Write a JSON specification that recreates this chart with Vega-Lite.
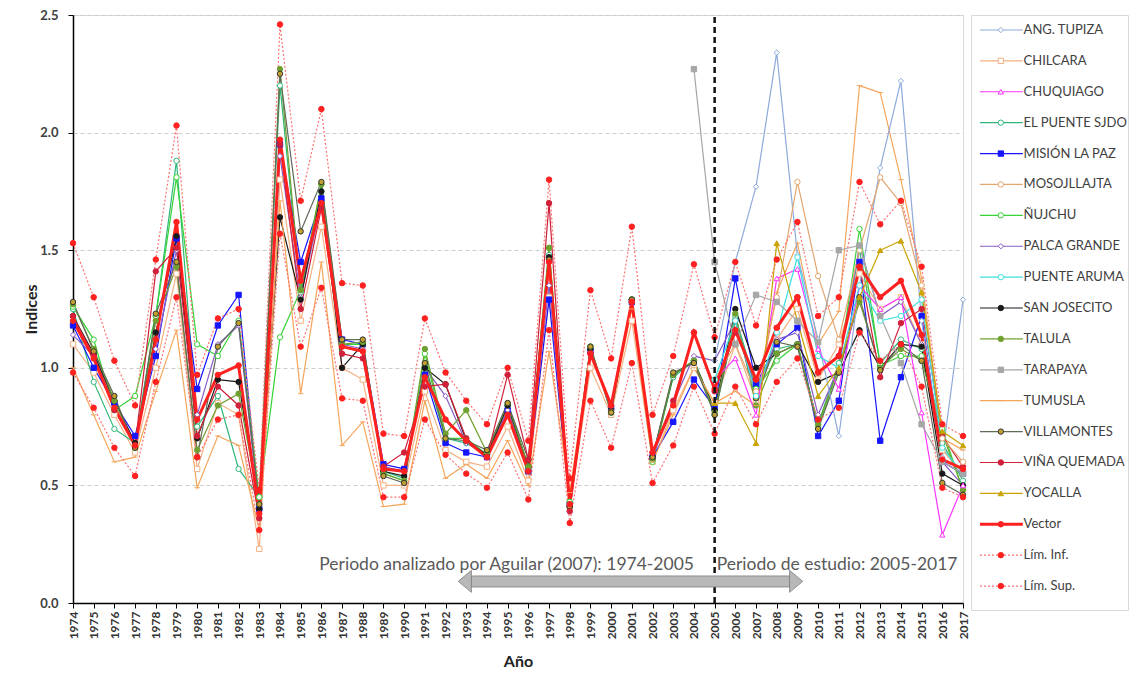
{
"$schema":"https://vega.github.io/schema/vega-lite/v6.json",
"background":"white",
"padding":{"left":22,"top":8,"right":2,"bottom":2},
"spacing":0,
"bounds":"full",
"config":{"font":"Lato","view":{"stroke":"#d9d9d9"},"axis":{"labelFont":"Lato","titleFont":"Lato"},
"axisX":{"format":"d","labelAngle":-90,"labelFontWeight":"bold","labelFontSize":12,"labelColor":"#333333","labelPadding":3,"labelOverlap":false,"labelFlush":false,"titleFontSize":16,"titleFontWeight":"bold","titleColor":"#222222","titlePadding":15,"domainColor":"#000000","domainWidth":1.5,"tickColor":"#000000","tickSize":5,"grid":false},
"axisY":{"format":".1f","labelFontWeight":"bold","labelFontSize":13,"labelColor":"#404040","labelPadding":10,"titleFontSize":16,"titleFontWeight":"bold","titleColor":"#222222","titleX":-34,"domainColor":"#000000","domainWidth":1.5,"tickColor":"#000000","tickSize":5,"grid":true,"gridColor":"#cccccc","gridDash":[4,3]}},
"datasets":{
"notes":[{"txt":"Periodo analizado por Aguilar (2007): 1974-2005","side":"l"},{"txt":"Periodo de estudio: 2005-2017","side":"r"}],
"one":[{"k":"arrow"}],
"leg":[{"s":"A","name":"ANG. TUPIZA"},{"s":"C","name":"CHILCARA"},{"s":"H","name":"CHUQUIAGO"},{"s":"E","name":"EL PUENTE SJDO"},{"s":"M","name":"MISIÓN LA PAZ"},{"s":"O","name":"MOSOJLLAJTA"},{"s":"N","name":"ÑUJCHU"},{"s":"P","name":"PALCA GRANDE"},{"s":"R","name":"PUENTE ARUMA"},{"s":"S","name":"SAN JOSECITO"},{"s":"T","name":"TALULA"},{"s":"G","name":"TARAPAYA"},{"s":"U","name":"TUMUSLA"},{"s":"W","name":"VILLAMONTES"},{"s":"Q","name":"VIÑA QUEMADA"},{"s":"K","name":"YOCALLA"},{"s":"V","name":"Vector"},{"s":"I","name":"Lím. Inf."},{"s":"L","name":"Lím. Sup."}],
"d":[
{"s":"C","t":1974,"v":1.10},{"s":"C","t":1975,"v":0.98},{"s":"C","t":1976,"v":0.80},{"s":"C","t":1977,"v":0.64},{"s":"C","t":1978,"v":1.00},{"s":"C","t":1979,"v":1.40},{"s":"C","t":1980,"v":0.57},{"s":"C","t":1981,"v":0.85},{"s":"C","t":1982,"v":0.80},{"s":"C","t":1983,"v":0.23},{"s":"C","t":1984,"v":1.80},{"s":"C","t":1985,"v":1.20},{"s":"C","t":1986,"v":1.60},{"s":"C","t":1987,"v":1.00},{"s":"C","t":1988,"v":0.95},{"s":"C","t":1989,"v":0.50},{"s":"C","t":1990,"v":0.50},{"s":"C","t":1991,"v":0.90},{"s":"C","t":1992,"v":0.65},{"s":"C","t":1993,"v":0.60},{"s":"C","t":1994,"v":0.58},{"s":"C","t":1995,"v":0.75},{"s":"C","t":1996,"v":0.52},{"s":"C","t":1997,"v":1.30},{"s":"C","t":1998,"v":0.40},{"s":"C","t":1999,"v":1.00},{"s":"C","t":2000,"v":0.80},{"s":"C","t":2001,"v":1.20},{"s":"C","t":2002,"v":0.60},{"s":"C","t":2003,"v":0.82},{"s":"C","t":2004,"v":1.00},{"s":"C","t":2005,"v":0.85},{"s":"C","t":2006,"v":1.10},{"s":"C","t":2007,"v":0.86},{"s":"C","t":2008,"v":1.12},{"s":"C","t":2009,"v":1.25},{"s":"C","t":2010,"v":0.95},{"s":"C","t":2011,"v":1.10},{"s":"C","t":2012,"v":1.40},{"s":"C","t":2013,"v":1.25},{"s":"C","t":2014,"v":1.30},{"s":"C","t":2015,"v":1.10},{"s":"C","t":2016,"v":0.65},{"s":"C","t":2017,"v":0.55},
{"s":"E","t":1974,"v":1.25},{"s":"E","t":1975,"v":0.94},{"s":"E","t":1976,"v":0.74},{"s":"E","t":1977,"v":0.68},{"s":"E","t":1978,"v":1.22},{"s":"E","t":1979,"v":1.88},{"s":"E","t":1980,"v":0.75},{"s":"E","t":1981,"v":0.88},{"s":"E","t":1982,"v":0.57},{"s":"E","t":1983,"v":0.45},{"s":"E","t":1984,"v":2.20},{"s":"E","t":1985,"v":1.32},{"s":"E","t":1986,"v":1.75},{"s":"E","t":1987,"v":1.10},{"s":"E","t":1988,"v":1.10},{"s":"E","t":1989,"v":0.56},{"s":"E","t":1990,"v":0.53},{"s":"E","t":1991,"v":1.00},{"s":"E","t":1992,"v":0.70},{"s":"E","t":1993,"v":0.68},{"s":"E","t":1994,"v":0.63},{"s":"E","t":1995,"v":0.84},{"s":"E","t":1996,"v":0.58},{"s":"E","t":1997,"v":1.48},{"s":"E","t":1998,"v":0.43},{"s":"E","t":1999,"v":1.08},{"s":"E","t":2000,"v":0.82},{"s":"E","t":2001,"v":1.29},{"s":"E","t":2002,"v":0.61},{"s":"E","t":2003,"v":0.96},{"s":"E","t":2004,"v":1.03},{"s":"E","t":2005,"v":0.82},{"s":"E","t":2006,"v":1.22},{"s":"E","t":2007,"v":0.92},{"s":"E","t":2008,"v":1.08},{"s":"E","t":2009,"v":1.10},{"s":"E","t":2010,"v":0.76},{"s":"E","t":2011,"v":1.02},{"s":"E","t":2012,"v":1.50},{"s":"E","t":2013,"v":1.02},{"s":"E","t":2014,"v":1.12},{"s":"E","t":2015,"v":1.08},{"s":"E","t":2016,"v":0.68},{"s":"E","t":2017,"v":0.52},
{"s":"M","t":1974,"v":1.18},{"s":"M","t":1975,"v":1.00},{"s":"M","t":1976,"v":0.85},{"s":"M","t":1977,"v":0.71},{"s":"M","t":1978,"v":1.05},{"s":"M","t":1979,"v":1.55},{"s":"M","t":1980,"v":0.91},{"s":"M","t":1981,"v":1.18},{"s":"M","t":1982,"v":1.31},{"s":"M","t":1983,"v":0.40},{"s":"M","t":1984,"v":1.95},{"s":"M","t":1985,"v":1.45},{"s":"M","t":1986,"v":1.72},{"s":"M","t":1987,"v":1.12},{"s":"M","t":1988,"v":1.10},{"s":"M","t":1989,"v":0.59},{"s":"M","t":1990,"v":0.57},{"s":"M","t":1991,"v":0.97},{"s":"M","t":1992,"v":0.68},{"s":"M","t":1993,"v":0.64},{"s":"M","t":1994,"v":0.62},{"s":"M","t":1995,"v":0.82},{"s":"M","t":1996,"v":0.56},{"s":"M","t":1997,"v":1.29},{"s":"M","t":1998,"v":0.42},{"s":"M","t":1999,"v":1.07},{"s":"M","t":2000,"v":0.83},{"s":"M","t":2001,"v":1.28},{"s":"M","t":2002,"v":0.62},{"s":"M","t":2003,"v":0.77},{"s":"M","t":2004,"v":0.95},{"s":"M","t":2005,"v":0.83},{"s":"M","t":2006,"v":1.38},{"s":"M","t":2007,"v":0.93},{"s":"M","t":2008,"v":1.10},{"s":"M","t":2009,"v":1.17},{"s":"M","t":2010,"v":0.71},{"s":"M","t":2011,"v":0.86},{"s":"M","t":2012,"v":1.45},{"s":"M","t":2013,"v":0.69},{"s":"M","t":2014,"v":0.96},{"s":"M","t":2015,"v":1.22},{"s":"M","t":2016,"v":0.60},{"s":"M","t":2017,"v":0.55},
{"s":"N","t":1974,"v":1.26},{"s":"N","t":1975,"v":1.12},{"s":"N","t":1976,"v":0.82},{"s":"N","t":1977,"v":0.88},{"s":"N","t":1978,"v":1.22},{"s":"N","t":1979,"v":1.81},{"s":"N","t":1980,"v":1.10},{"s":"N","t":1981,"v":1.05},{"s":"N","t":1982,"v":1.20},{"s":"N","t":1983,"v":0.45},{"s":"N","t":1984,"v":1.13},{"s":"N","t":1985,"v":1.33},{"s":"N","t":1986,"v":1.78},{"s":"N","t":1987,"v":1.10},{"s":"N","t":1988,"v":1.10},{"s":"N","t":1989,"v":0.55},{"s":"N","t":1990,"v":0.52},{"s":"N","t":1991,"v":1.06},{"s":"N","t":1992,"v":0.70},{"s":"N","t":1993,"v":0.70},{"s":"N","t":1994,"v":0.63},{"s":"N","t":1995,"v":0.84},{"s":"N","t":1996,"v":0.58},{"s":"N","t":1997,"v":1.51},{"s":"N","t":1998,"v":0.43},{"s":"N","t":1999,"v":1.09},{"s":"N","t":2000,"v":0.81},{"s":"N","t":2001,"v":1.29},{"s":"N","t":2002,"v":0.60},{"s":"N","t":2003,"v":0.97},{"s":"N","t":2004,"v":1.03},{"s":"N","t":2005,"v":0.80},{"s":"N","t":2006,"v":1.20},{"s":"N","t":2007,"v":0.91},{"s":"N","t":2008,"v":1.03},{"s":"N","t":2009,"v":1.10},{"s":"N","t":2010,"v":0.75},{"s":"N","t":2011,"v":1.00},{"s":"N","t":2012,"v":1.59},{"s":"N","t":2013,"v":1.01},{"s":"N","t":2014,"v":1.05},{"s":"N","t":2015,"v":1.05},{"s":"N","t":2016,"v":0.74},{"s":"N","t":2017,"v":0.48},
{"s":"P","t":1974,"v":1.14},{"s":"P","t":1975,"v":1.05},{"s":"P","t":1976,"v":0.86},{"s":"P","t":1977,"v":0.68},{"s":"P","t":1978,"v":1.08},{"s":"P","t":1979,"v":1.50},{"s":"P","t":1980,"v":0.80},{"s":"P","t":1981,"v":1.10},{"s":"P","t":1982,"v":1.18},{"s":"P","t":1983,"v":0.40},{"s":"P","t":1984,"v":1.90},{"s":"P","t":1985,"v":1.30},{"s":"P","t":1986,"v":1.70},{"s":"P","t":1987,"v":1.10},{"s":"P","t":1988,"v":1.08},{"s":"P","t":1989,"v":0.58},{"s":"P","t":1990,"v":0.56},{"s":"P","t":1991,"v":1.00},{"s":"P","t":1992,"v":0.88},{"s":"P","t":1993,"v":0.68},{"s":"P","t":1994,"v":0.63},{"s":"P","t":1995,"v":0.82},{"s":"P","t":1996,"v":0.57},{"s":"P","t":1997,"v":1.35},{"s":"P","t":1998,"v":0.42},{"s":"P","t":1999,"v":1.07},{"s":"P","t":2000,"v":0.83},{"s":"P","t":2001,"v":1.28},{"s":"P","t":2002,"v":0.62},{"s":"P","t":2003,"v":0.85},{"s":"P","t":2004,"v":1.05},{"s":"P","t":2005,"v":1.03},{"s":"P","t":2006,"v":1.20},{"s":"P","t":2007,"v":0.90},{"s":"P","t":2008,"v":1.12},{"s":"P","t":2009,"v":1.15},{"s":"P","t":2010,"v":0.80},{"s":"P","t":2011,"v":1.00},{"s":"P","t":2012,"v":1.52},{"s":"P","t":2013,"v":1.22},{"s":"P","t":2014,"v":1.28},{"s":"P","t":2015,"v":1.10},{"s":"P","t":2016,"v":0.60},{"s":"P","t":2017,"v":0.50},
{"s":"S","t":1974,"v":1.22},{"s":"S","t":1975,"v":1.06},{"s":"S","t":1976,"v":0.86},{"s":"S","t":1977,"v":0.68},{"s":"S","t":1978,"v":1.15},{"s":"S","t":1979,"v":1.56},{"s":"S","t":1980,"v":0.70},{"s":"S","t":1981,"v":0.95},{"s":"S","t":1982,"v":0.94},{"s":"S","t":1983,"v":0.40},{"s":"S","t":1984,"v":1.64},{"s":"S","t":1985,"v":1.29},{"s":"S","t":1986,"v":1.75},{"s":"S","t":1987,"v":1.00},{"s":"S","t":1988,"v":1.10},{"s":"S","t":1989,"v":0.56},{"s":"S","t":1990,"v":0.54},{"s":"S","t":1991,"v":1.00},{"s":"S","t":1992,"v":0.93},{"s":"S","t":1993,"v":0.69},{"s":"S","t":1994,"v":0.63},{"s":"S","t":1995,"v":0.84},{"s":"S","t":1996,"v":0.58},{"s":"S","t":1997,"v":1.47},{"s":"S","t":1998,"v":0.41},{"s":"S","t":1999,"v":1.08},{"s":"S","t":2000,"v":0.82},{"s":"S","t":2001,"v":1.29},{"s":"S","t":2002,"v":0.62},{"s":"S","t":2003,"v":0.97},{"s":"S","t":2004,"v":1.03},{"s":"S","t":2005,"v":0.82},{"s":"S","t":2006,"v":1.25},{"s":"S","t":2007,"v":1.00},{"s":"S","t":2008,"v":1.06},{"s":"S","t":2009,"v":1.10},{"s":"S","t":2010,"v":0.94},{"s":"S","t":2011,"v":0.98},{"s":"S","t":2012,"v":1.16},{"s":"S","t":2013,"v":1.00},{"s":"S","t":2014,"v":1.10},{"s":"S","t":2015,"v":1.09},{"s":"S","t":2016,"v":0.55},{"s":"S","t":2017,"v":0.50},
{"s":"T","t":1974,"v":1.27},{"s":"T","t":1975,"v":1.08},{"s":"T","t":1976,"v":0.86},{"s":"T","t":1977,"v":0.66},{"s":"T","t":1978,"v":1.20},{"s":"T","t":1979,"v":1.43},{"s":"T","t":1980,"v":0.65},{"s":"T","t":1981,"v":0.84},{"s":"T","t":1982,"v":0.89},{"s":"T","t":1983,"v":0.42},{"s":"T","t":1984,"v":2.27},{"s":"T","t":1985,"v":1.33},{"s":"T","t":1986,"v":1.78},{"s":"T","t":1987,"v":1.10},{"s":"T","t":1988,"v":1.11},{"s":"T","t":1989,"v":0.55},{"s":"T","t":1990,"v":0.52},{"s":"T","t":1991,"v":1.08},{"s":"T","t":1992,"v":0.72},{"s":"T","t":1993,"v":0.82},{"s":"T","t":1994,"v":0.64},{"s":"T","t":1995,"v":0.85},{"s":"T","t":1996,"v":0.58},{"s":"T","t":1997,"v":1.51},{"s":"T","t":1998,"v":0.42},{"s":"T","t":1999,"v":1.09},{"s":"T","t":2000,"v":0.81},{"s":"T","t":2001,"v":1.29},{"s":"T","t":2002,"v":0.61},{"s":"T","t":2003,"v":0.97},{"s":"T","t":2004,"v":1.03},{"s":"T","t":2005,"v":0.81},{"s":"T","t":2006,"v":1.23},{"s":"T","t":2007,"v":0.84},{"s":"T","t":2008,"v":1.06},{"s":"T","t":2009,"v":1.10},{"s":"T","t":2010,"v":0.76},{"s":"T","t":2011,"v":1.00},{"s":"T","t":2012,"v":1.28},{"s":"T","t":2013,"v":1.00},{"s":"T","t":2014,"v":1.08},{"s":"T","t":2015,"v":1.03},{"s":"T","t":2016,"v":0.72},{"s":"T","t":2017,"v":0.48},
{"s":"U","t":1974,"v":1.00},{"s":"U","t":1975,"v":0.80},{"s":"U","t":1976,"v":0.60},{"s":"U","t":1977,"v":0.62},{"s":"U","t":1978,"v":0.90},{"s":"U","t":1979,"v":1.16},{"s":"U","t":1980,"v":0.49},{"s":"U","t":1981,"v":0.71},{"s":"U","t":1982,"v":0.67},{"s":"U","t":1983,"v":0.31},{"s":"U","t":1984,"v":1.71},{"s":"U","t":1985,"v":0.89},{"s":"U","t":1986,"v":1.45},{"s":"U","t":1987,"v":0.67},{"s":"U","t":1988,"v":0.77},{"s":"U","t":1989,"v":0.41},{"s":"U","t":1990,"v":0.42},{"s":"U","t":1991,"v":0.86},{"s":"U","t":1992,"v":0.53},{"s":"U","t":1993,"v":0.59},{"s":"U","t":1994,"v":0.53},{"s":"U","t":1995,"v":0.69},{"s":"U","t":1996,"v":0.50},{"s":"U","t":1997,"v":1.07},{"s":"U","t":1998,"v":0.47},{"s":"U","t":1999,"v":1.07},{"s":"U","t":2000,"v":0.82},{"s":"U","t":2001,"v":1.25},{"s":"U","t":2002,"v":0.60},{"s":"U","t":2003,"v":0.80},{"s":"U","t":2004,"v":1.00},{"s":"U","t":2005,"v":0.85},{"s":"U","t":2006,"v":0.90},{"s":"U","t":2007,"v":0.84},{"s":"U","t":2008,"v":1.32},{"s":"U","t":2009,"v":1.53},{"s":"U","t":2010,"v":1.10},{"s":"U","t":2011,"v":1.24},{"s":"U","t":2012,"v":2.20},{"s":"U","t":2013,"v":2.17},{"s":"U","t":2014,"v":1.80},{"s":"U","t":2015,"v":1.38},{"s":"U","t":2016,"v":0.70},{"s":"U","t":2017,"v":0.65},
{"s":"W","t":1974,"v":1.28},{"s":"W","t":1975,"v":1.07},{"s":"W","t":1976,"v":0.88},{"s":"W","t":1977,"v":0.66},{"s":"W","t":1978,"v":1.23},{"s":"W","t":1979,"v":1.45},{"s":"W","t":1980,"v":0.62},{"s":"W","t":1981,"v":1.09},{"s":"W","t":1982,"v":1.19},{"s":"W","t":1983,"v":0.42},{"s":"W","t":1984,"v":2.25},{"s":"W","t":1985,"v":1.58},{"s":"W","t":1986,"v":1.79},{"s":"W","t":1987,"v":1.12},{"s":"W","t":1988,"v":1.12},{"s":"W","t":1989,"v":0.54},{"s":"W","t":1990,"v":0.51},{"s":"W","t":1991,"v":1.02},{"s":"W","t":1992,"v":0.70},{"s":"W","t":1993,"v":0.69},{"s":"W","t":1994,"v":0.65},{"s":"W","t":1995,"v":0.85},{"s":"W","t":1996,"v":0.61},{"s":"W","t":1997,"v":1.46},{"s":"W","t":1998,"v":0.41},{"s":"W","t":1999,"v":1.09},{"s":"W","t":2000,"v":0.81},{"s":"W","t":2001,"v":1.29},{"s":"W","t":2002,"v":0.62},{"s":"W","t":2003,"v":0.98},{"s":"W","t":2004,"v":1.02},{"s":"W","t":2005,"v":0.80},{"s":"W","t":2006,"v":1.20},{"s":"W","t":2007,"v":0.87},{"s":"W","t":2008,"v":1.11},{"s":"W","t":2009,"v":1.09},{"s":"W","t":2010,"v":0.74},{"s":"W","t":2011,"v":0.98},{"s":"W","t":2012,"v":1.30},{"s":"W","t":2013,"v":0.99},{"s":"W","t":2014,"v":1.10},{"s":"W","t":2015,"v":1.03},{"s":"W","t":2016,"v":0.51},{"s":"W","t":2017,"v":0.46},
{"s":"Q","t":1974,"v":1.22},{"s":"Q","t":1975,"v":1.05},{"s":"Q","t":1976,"v":0.82},{"s":"Q","t":1977,"v":0.67},{"s":"Q","t":1978,"v":1.41},{"s":"Q","t":1979,"v":1.51},{"s":"Q","t":1980,"v":0.71},{"s":"Q","t":1981,"v":0.92},{"s":"Q","t":1982,"v":0.84},{"s":"Q","t":1983,"v":0.36},{"s":"Q","t":1984,"v":1.95},{"s":"Q","t":1985,"v":1.25},{"s":"Q","t":1986,"v":1.68},{"s":"Q","t":1987,"v":1.06},{"s":"Q","t":1988,"v":1.04},{"s":"Q","t":1989,"v":0.58},{"s":"Q","t":1990,"v":0.64},{"s":"Q","t":1991,"v":0.92},{"s":"Q","t":1992,"v":0.93},{"s":"Q","t":1993,"v":0.70},{"s":"Q","t":1994,"v":0.62},{"s":"Q","t":1995,"v":0.97},{"s":"Q","t":1996,"v":0.61},{"s":"Q","t":1997,"v":1.70},{"s":"Q","t":1998,"v":0.39},{"s":"Q","t":1999,"v":1.06},{"s":"Q","t":2000,"v":0.84},{"s":"Q","t":2001,"v":1.28},{"s":"Q","t":2002,"v":0.64},{"s":"Q","t":2003,"v":0.86},{"s":"Q","t":2004,"v":1.15},{"s":"Q","t":2005,"v":0.90},{"s":"Q","t":2006,"v":1.15},{"s":"Q","t":2007,"v":0.95},{"s":"Q","t":2008,"v":1.17},{"s":"Q","t":2009,"v":1.30},{"s":"Q","t":2010,"v":0.98},{"s":"Q","t":2011,"v":1.05},{"s":"Q","t":2012,"v":1.43},{"s":"Q","t":2013,"v":0.96},{"s":"Q","t":2014,"v":1.19},{"s":"Q","t":2015,"v":1.25},{"s":"Q","t":2016,"v":0.71},{"s":"Q","t":2017,"v":0.58},
{"s":"A","t":2005,"v":1.03},{"s":"A","t":2006,"v":1.45},{"s":"A","t":2007,"v":1.77},{"s":"A","t":2008,"v":2.34},{"s":"A","t":2009,"v":1.48},{"s":"A","t":2010,"v":1.12},{"s":"A","t":2011,"v":0.71},{"s":"A","t":2012,"v":1.35},{"s":"A","t":2013,"v":1.85},{"s":"A","t":2014,"v":2.22},{"s":"A","t":2015,"v":1.20},{"s":"A","t":2016,"v":0.62},{"s":"A","t":2017,"v":1.29},
{"s":"H","t":2005,"v":0.95},{"s":"H","t":2006,"v":1.04},{"s":"H","t":2007,"v":0.80},{"s":"H","t":2008,"v":1.38},{"s":"H","t":2009,"v":1.42},{"s":"H","t":2010,"v":1.08},{"s":"H","t":2011,"v":0.91},{"s":"H","t":2012,"v":1.35},{"s":"H","t":2013,"v":1.25},{"s":"H","t":2014,"v":1.30},{"s":"H","t":2015,"v":0.81},{"s":"H","t":2016,"v":0.29},{"s":"H","t":2017,"v":0.50},
{"s":"O","t":2005,"v":0.95},{"s":"O","t":2006,"v":1.10},{"s":"O","t":2007,"v":0.90},{"s":"O","t":2008,"v":1.30},{"s":"O","t":2009,"v":1.79},{"s":"O","t":2010,"v":1.39},{"s":"O","t":2011,"v":1.12},{"s":"O","t":2012,"v":1.50},{"s":"O","t":2013,"v":1.81},{"s":"O","t":2014,"v":1.70},{"s":"O","t":2015,"v":1.35},{"s":"O","t":2016,"v":0.70},{"s":"O","t":2017,"v":0.60},
{"s":"R","t":2005,"v":0.95},{"s":"R","t":2006,"v":1.20},{"s":"R","t":2007,"v":0.88},{"s":"R","t":2008,"v":1.15},{"s":"R","t":2009,"v":1.47},{"s":"R","t":2010,"v":1.05},{"s":"R","t":2011,"v":1.00},{"s":"R","t":2012,"v":1.35},{"s":"R","t":2013,"v":1.20},{"s":"R","t":2014,"v":1.22},{"s":"R","t":2015,"v":1.29},{"s":"R","t":2016,"v":0.66},{"s":"R","t":2017,"v":0.55},
{"s":"K","t":2005,"v":0.85},{"s":"K","t":2006,"v":0.85},{"s":"K","t":2007,"v":0.68},{"s":"K","t":2008,"v":1.53},{"s":"K","t":2009,"v":1.20},{"s":"K","t":2010,"v":0.88},{"s":"K","t":2011,"v":1.00},{"s":"K","t":2012,"v":1.30},{"s":"K","t":2013,"v":1.50},{"s":"K","t":2014,"v":1.54},{"s":"K","t":2015,"v":1.32},{"s":"K","t":2016,"v":0.73},{"s":"K","t":2017,"v":0.67},
{"s":"G","t":2004,"v":2.27},{"s":"G","t":2005,"v":1.45},{"s":"G","t":2006,"v":1.10},{"s":"G","t":2007,"v":1.31},{"s":"G","t":2008,"v":1.28},{"s":"G","t":2009,"v":1.20},{"s":"G","t":2010,"v":1.11},{"s":"G","t":2011,"v":1.50},{"s":"G","t":2012,"v":1.52},{"s":"G","t":2013,"v":1.22},{"s":"G","t":2014,"v":1.02},{"s":"G","t":2015,"v":0.76},{"s":"G","t":2016,"v":0.60},{"s":"G","t":2017,"v":0.55},
{"s":"I","t":1974,"v":0.98},{"s":"I","t":1975,"v":0.83},{"s":"I","t":1976,"v":0.66},{"s":"I","t":1977,"v":0.54},{"s":"I","t":1978,"v":0.94},{"s":"I","t":1979,"v":1.30},{"s":"I","t":1980,"v":0.62},{"s":"I","t":1981,"v":0.78},{"s":"I","t":1982,"v":0.80},{"s":"I","t":1983,"v":0.31},{"s":"I","t":1984,"v":1.57},{"s":"I","t":1985,"v":1.09},{"s":"I","t":1986,"v":1.34},{"s":"I","t":1987,"v":0.87},{"s":"I","t":1988,"v":0.86},{"s":"I","t":1989,"v":0.45},{"s":"I","t":1990,"v":0.45},{"s":"I","t":1991,"v":0.78},{"s":"I","t":1992,"v":0.63},{"s":"I","t":1993,"v":0.55},{"s":"I","t":1994,"v":0.49},{"s":"I","t":1995,"v":0.64},{"s":"I","t":1996,"v":0.44},{"s":"I","t":1997,"v":1.16},{"s":"I","t":1998,"v":0.34},{"s":"I","t":1999,"v":0.86},{"s":"I","t":2000,"v":0.66},{"s":"I","t":2001,"v":1.02},{"s":"I","t":2002,"v":0.51},{"s":"I","t":2003,"v":0.67},{"s":"I","t":2004,"v":0.92},{"s":"I","t":2005,"v":0.72},{"s":"I","t":2006,"v":0.92},{"s":"I","t":2007,"v":0.76},{"s":"I","t":2008,"v":0.94},{"s":"I","t":2009,"v":1.04},{"s":"I","t":2010,"v":0.78},{"s":"I","t":2011,"v":0.83},{"s":"I","t":2012,"v":1.15},{"s":"I","t":2013,"v":1.03},{"s":"I","t":2014,"v":1.10},{"s":"I","t":2015,"v":0.92},{"s":"I","t":2016,"v":0.49},{"s":"I","t":2017,"v":0.45},
{"s":"L","t":1974,"v":1.53},{"s":"L","t":1975,"v":1.30},{"s":"L","t":1976,"v":1.03},{"s":"L","t":1977,"v":0.84},{"s":"L","t":1978,"v":1.46},{"s":"L","t":1979,"v":2.03},{"s":"L","t":1980,"v":0.97},{"s":"L","t":1981,"v":1.21},{"s":"L","t":1982,"v":1.25},{"s":"L","t":1983,"v":0.48},{"s":"L","t":1984,"v":2.46},{"s":"L","t":1985,"v":1.71},{"s":"L","t":1986,"v":2.10},{"s":"L","t":1987,"v":1.36},{"s":"L","t":1988,"v":1.35},{"s":"L","t":1989,"v":0.72},{"s":"L","t":1990,"v":0.71},{"s":"L","t":1991,"v":1.21},{"s":"L","t":1992,"v":0.98},{"s":"L","t":1993,"v":0.86},{"s":"L","t":1994,"v":0.76},{"s":"L","t":1995,"v":1.00},{"s":"L","t":1996,"v":0.69},{"s":"L","t":1997,"v":1.80},{"s":"L","t":1998,"v":0.53},{"s":"L","t":1999,"v":1.33},{"s":"L","t":2000,"v":1.04},{"s":"L","t":2001,"v":1.60},{"s":"L","t":2002,"v":0.80},{"s":"L","t":2003,"v":1.05},{"s":"L","t":2004,"v":1.44},{"s":"L","t":2005,"v":1.13},{"s":"L","t":2006,"v":1.45},{"s":"L","t":2007,"v":1.18},{"s":"L","t":2008,"v":1.46},{"s":"L","t":2009,"v":1.62},{"s":"L","t":2010,"v":1.22},{"s":"L","t":2011,"v":1.30},{"s":"L","t":2012,"v":1.79},{"s":"L","t":2013,"v":1.61},{"s":"L","t":2014,"v":1.71},{"s":"L","t":2015,"v":1.43},{"s":"L","t":2016,"v":0.76},{"s":"L","t":2017,"v":0.71},
{"s":"V","t":1974,"v":1.20},{"s":"V","t":1975,"v":1.04},{"s":"V","t":1976,"v":0.83},{"s":"V","t":1977,"v":0.67},{"s":"V","t":1978,"v":1.12},{"s":"V","t":1979,"v":1.62},{"s":"V","t":1980,"v":0.78},{"s":"V","t":1981,"v":0.97},{"s":"V","t":1982,"v":1.01},{"s":"V","t":1983,"v":0.38},{"s":"V","t":1984,"v":1.97},{"s":"V","t":1985,"v":1.37},{"s":"V","t":1986,"v":1.70},{"s":"V","t":1987,"v":1.09},{"s":"V","t":1988,"v":1.07},{"s":"V","t":1989,"v":0.57},{"s":"V","t":1990,"v":0.56},{"s":"V","t":1991,"v":0.96},{"s":"V","t":1992,"v":0.78},{"s":"V","t":1993,"v":0.69},{"s":"V","t":1994,"v":0.62},{"s":"V","t":1995,"v":0.80},{"s":"V","t":1996,"v":0.56},{"s":"V","t":1997,"v":1.45},{"s":"V","t":1998,"v":0.42},{"s":"V","t":1999,"v":1.06},{"s":"V","t":2000,"v":0.84},{"s":"V","t":2001,"v":1.28},{"s":"V","t":2002,"v":0.64},{"s":"V","t":2003,"v":0.84},{"s":"V","t":2004,"v":1.15},{"s":"V","t":2005,"v":0.91},{"s":"V","t":2006,"v":1.16},{"s":"V","t":2007,"v":0.95},{"s":"V","t":2008,"v":1.17},{"s":"V","t":2009,"v":1.30},{"s":"V","t":2010,"v":0.98},{"s":"V","t":2011,"v":1.05},{"s":"V","t":2012,"v":1.43},{"s":"V","t":2013,"v":1.30},{"s":"V","t":2014,"v":1.37},{"s":"V","t":2015,"v":1.14},{"s":"V","t":2016,"v":0.61},{"s":"V","t":2017,"v":0.57}
]},
"hconcat":[
{
"width":890,"height":588,
"layer":[
{"data":{"name":"d"},"transform":[{"filter":"datum.s!='V' && datum.s!='I' && datum.s!='L'"}],"mark":{"type":"line","strokeWidth":1.2},
"encoding":{
"x":{"field":"t","type":"quantitative","scale":{"domain":[1974,2017],"nice":false,"zero":false},"axis":{"title":"Año","values":[1974,1975,1976,1977,1978,1979,1980,1981,1982,1983,1984,1985,1986,1987,1988,1989,1990,1991,1992,1993,1994,1995,1996,1997,1998,1999,2000,2001,2002,2003,2004,2005,2006,2007,2008,2009,2010,2011,2012,2013,2014,2015,2016,2017]}},
"y":{"field":"v","type":"quantitative","scale":{"domain":[0,2.5],"nice":false,"zero":true},"axis":{"title":"Indices","values":[0,0.5,1,1.5,2,2.5]}},
"color":{"field":"s","type":"nominal","legend":null,"scale":{"domain":["A","C","H","E","M","O","N","P","R","S","T","G","U","W","Q","K","V","I","L"],"range":["#8eaadb","#f4b183","#ff33ff","#2eb87a","#1515ff","#e3a66e","#35d335","#8a5cc7","#3de0e0","#1a1a1a","#70a030","#a6a6a6","#f5a55a","#5f6a58","#d0203a","#c9a400","#ff2020","#ff7070","#ff7070"]}}}},
{"data":{"name":"d"},"transform":[{"filter":"datum.s=='I' || datum.s=='L'"}],"mark":{"type":"line","strokeWidth":1.2,"strokeDash":[2,2]},
"encoding":{"x":{"field":"t","type":"quantitative","axis":{"title":"Año","values":[1974,1975,1976,1977,1978,1979,1980,1981,1982,1983,1984,1985,1986,1987,1988,1989,1990,1991,1992,1993,1994,1995,1996,1997,1998,1999,2000,2001,2002,2003,2004,2005,2006,2007,2008,2009,2010,2011,2012,2013,2014,2015,2016,2017]}},"y":{"field":"v","type":"quantitative","axis":{"title":"Indices","values":[0,0.5,1,1.5,2,2.5]}},"color":{"field":"s","type":"nominal","legend":null}}},
{"data":{"name":"d"},"transform":[{"filter":"datum.s=='V'"}],"mark":{"type":"line","strokeWidth":3},
"encoding":{"x":{"field":"t","type":"quantitative","axis":{"title":"Año","values":[1974,1975,1976,1977,1978,1979,1980,1981,1982,1983,1984,1985,1986,1987,1988,1989,1990,1991,1992,1993,1994,1995,1996,1997,1998,1999,2000,2001,2002,2003,2004,2005,2006,2007,2008,2009,2010,2011,2012,2013,2014,2015,2016,2017]}},"y":{"field":"v","type":"quantitative","axis":{"title":"Indices","values":[0,0.5,1,1.5,2,2.5]}},"color":{"field":"s","type":"nominal","legend":null}}},
{"data":{"name":"d"},"mark":{"type":"point","filled":true,"strokeWidth":1,"opacity":1},
"encoding":{"x":{"field":"t","type":"quantitative","axis":{"title":"Año","values":[1974,1975,1976,1977,1978,1979,1980,1981,1982,1983,1984,1985,1986,1987,1988,1989,1990,1991,1992,1993,1994,1995,1996,1997,1998,1999,2000,2001,2002,2003,2004,2005,2006,2007,2008,2009,2010,2011,2012,2013,2014,2015,2016,2017]}},"y":{"field":"v","type":"quantitative","axis":{"title":"Indices","values":[0,0.5,1,1.5,2,2.5]}},
"shape":{"field":"s","type":"nominal","legend":null,"scale":{"domain":["A","C","H","E","M","O","N","P","R","S","T","G","U","W","Q","K","V","I","L"],"range":["diamond","square","triangle-up","circle","square","circle","circle","diamond","circle","circle","circle","square","stroke","circle","circle","triangle-up","circle","circle","circle"]}},
"fill":{"field":"s","type":"nominal","legend":null,"scale":{"domain":["A","C","H","E","M","O","N","P","R","S","T","G","U","W","Q","K","V","I","L"],"range":["#ffffff","#ffffff","#ffffff","#ffffff","#1515ff","#ffffff","#ffffff","#ffffff","#ffffff","#1a1a1a","#70a030","#a6a6a6","#f5a55a","#c0a030","#d0203a","#c9a400","#ff2020","#ff2020","#ff2020"]}},
"stroke":{"field":"s","type":"nominal","legend":null,"scale":{"domain":["A","C","H","E","M","O","N","P","R","S","T","G","U","W","Q","K","V","I","L"],"range":["#8eaadb","#f4b183","#ff33ff","#2eb87a","#1515ff","#e3a66e","#35d335","#8a5cc7","#3de0e0","#1a1a1a","#70a030","#a6a6a6","#f5a55a","#333333","#d0203a","#c9a400","#ff2020","#ff2020","#ff2020"]}},
"size":{"field":"s","type":"ordinal","legend":null,"scale":{"domain":["A","C","H","E","M","O","N","P","R","S","T","G","U","W","Q","K","V","I","L"],"range":[28,30,28,28,24,28,40,28,28,18,20,26,50,36,16,30,14,14,14]}}
}},
{"data":{"name":"one"},"mark":{"type":"rule","color":"#111111","strokeWidth":2.5,"strokeDash":[6,4]},"encoding":{"x":{"datum":2005,"type":"quantitative","axis":{"title":"Año","values":[1974,1975,1976,1977,1978,1979,1980,1981,1982,1983,1984,1985,1986,1987,1988,1989,1990,1991,1992,1993,1994,1995,1996,1997,1998,1999,2000,2001,2002,2003,2004,2005,2006,2007,2008,2009,2010,2011,2012,2013,2014,2015,2016,2017]}},"y":{"datum":0,"type":"quantitative","axis":{"title":"Indices","values":[0,0.5,1,1.5,2,2.5]}},"y2":{"datum":2.5}}},
{"data":{"name":"one"},"mark":{"type":"rect","fill":"#b8b8b8","stroke":"#7f7f7f","strokeWidth":0.8},"encoding":{"x":{"datum":1993.25,"type":"quantitative","axis":{"title":"Año","values":[1974,1975,1976,1977,1978,1979,1980,1981,1982,1983,1984,1985,1986,1987,1988,1989,1990,1991,1992,1993,1994,1995,1996,1997,1998,1999,2000,2001,2002,2003,2004,2005,2006,2007,2008,2009,2010,2011,2012,2013,2014,2015,2016,2017]}},"x2":{"datum":2008.62},"y":{"datum":0.068,"type":"quantitative","axis":{"title":"Indices","values":[0,0.5,1,1.5,2,2.5]}},"y2":{"datum":0.115}}},
{"data":{"name":"one"},"mark":{"type":"point","shape":"M-0.6,0L0.6,-1L0.6,1Z","filled":true,"fill":"#b8b8b8","stroke":"#7f7f7f","strokeWidth":0.8,"size":484,"opacity":1},"encoding":{"x":{"datum":1992.93,"type":"quantitative","axis":{"title":"Año","values":[1974,1975,1976,1977,1978,1979,1980,1981,1982,1983,1984,1985,1986,1987,1988,1989,1990,1991,1992,1993,1994,1995,1996,1997,1998,1999,2000,2001,2002,2003,2004,2005,2006,2007,2008,2009,2010,2011,2012,2013,2014,2015,2016,2017]}},"y":{"datum":0.092,"type":"quantitative","axis":{"title":"Indices","values":[0,0.5,1,1.5,2,2.5]}}}},
{"data":{"name":"one"},"mark":{"type":"point","shape":"M0.6,0L-0.6,-1L-0.6,1Z","filled":true,"fill":"#b8b8b8","stroke":"#7f7f7f","strokeWidth":0.8,"size":484,"opacity":1},"encoding":{"x":{"datum":2008.94,"type":"quantitative","axis":{"title":"Año","values":[1974,1975,1976,1977,1978,1979,1980,1981,1982,1983,1984,1985,1986,1987,1988,1989,1990,1991,1992,1993,1994,1995,1996,1997,1998,1999,2000,2001,2002,2003,2004,2005,2006,2007,2008,2009,2010,2011,2012,2013,2014,2015,2016,2017]}},"y":{"datum":0.092,"type":"quantitative","axis":{"title":"Indices","values":[0,0.5,1,1.5,2,2.5]}}}},
{"data":{"name":"notes"},"transform":[{"filter":"datum.side=='l'"}],"mark":{"type":"text","align":"right","baseline":"alphabetic","fontSize":17.5,"color":"#595959","font":"Lato"},"encoding":{"x":{"datum":2004.0,"type":"quantitative","axis":{"title":"Año","values":[1974,1975,1976,1977,1978,1979,1980,1981,1982,1983,1984,1985,1986,1987,1988,1989,1990,1991,1992,1993,1994,1995,1996,1997,1998,1999,2000,2001,2002,2003,2004,2005,2006,2007,2008,2009,2010,2011,2012,2013,2014,2015,2016,2017]}},"y":{"datum":0.14,"type":"quantitative","axis":{"title":"Indices","values":[0,0.5,1,1.5,2,2.5]}},"text":{"field":"txt"}}},
{"data":{"name":"notes"},"transform":[{"filter":"datum.side=='r'"}],"mark":{"type":"text","align":"left","baseline":"alphabetic","fontSize":17.5,"color":"#595959","font":"Lato"},"encoding":{"x":{"datum":2005.1,"type":"quantitative","axis":{"title":"Año","values":[1974,1975,1976,1977,1978,1979,1980,1981,1982,1983,1984,1985,1986,1987,1988,1989,1990,1991,1992,1993,1994,1995,1996,1997,1998,1999,2000,2001,2002,2003,2004,2005,2006,2007,2008,2009,2010,2011,2012,2013,2014,2015,2016,2017]}},"y":{"datum":0.14,"type":"quantitative","axis":{"title":"Indices","values":[0,0.5,1,1.5,2,2.5]}},"text":{"field":"txt"}}}
]
},
{
"width":157,"height":595,
"data":{"name":"leg"},
"encoding":{"y":{"field":"name","type":"nominal","axis":null,"scale":{"type":"point","padding":0.63,"align":0.385,"domain":["ANG. TUPIZA","CHILCARA","CHUQUIAGO","EL PUENTE SJDO","MISIÓN LA PAZ","MOSOJLLAJTA","ÑUJCHU","PALCA GRANDE","PUENTE ARUMA","SAN JOSECITO","TALULA","TARAPAYA","TUMUSLA","VILLAMONTES","VIÑA QUEMADA","YOCALLA","Vector","Lím. Inf.","Lím. Sup."]}}},
"layer":[
{"transform":[{"filter":"datum.s!='V' && datum.s!='I' && datum.s!='L'"}],"mark":{"type":"rule","strokeWidth":1.2},"encoding":{"x":{"datum":0.057,"type":"quantitative","scale":{"domain":[0,1]},"axis":null},"x2":{"datum":0.33},"color":{"field":"s","type":"nominal","legend":null}}},
{"transform":[{"filter":"datum.s=='I' || datum.s=='L'"}],"mark":{"type":"rule","strokeWidth":1.2,"strokeDash":[2,2]},"encoding":{"x":{"datum":0.057,"type":"quantitative","scale":{"domain":[0,1]},"axis":null},"x2":{"datum":0.33},"color":{"field":"s","type":"nominal","legend":null}}},
{"transform":[{"filter":"datum.s=='V'"}],"mark":{"type":"rule","strokeWidth":3},"encoding":{"x":{"datum":0.057,"type":"quantitative","scale":{"domain":[0,1]},"axis":null},"x2":{"datum":0.33},"color":{"field":"s","type":"nominal","legend":null}}},
{"mark":{"type":"point","filled":true,"strokeWidth":1,"opacity":1},"encoding":{"x":{"datum":0.19,"type":"quantitative","scale":{"domain":[0,1]},"axis":null},
"shape":{"field":"s","type":"nominal","legend":null},"fill":{"field":"s","type":"nominal","legend":null},"stroke":{"field":"s","type":"nominal","legend":null},"size":{"field":"s","type":"ordinal","legend":null}}},
{"mark":{"type":"text","align":"left","baseline":"middle","fontSize":13,"color":"#404040","font":"Lato"},"encoding":{"x":{"datum":0.335,"type":"quantitative","scale":{"domain":[0,1]},"axis":null},"text":{"field":"name"}}}
]
}
]
}
